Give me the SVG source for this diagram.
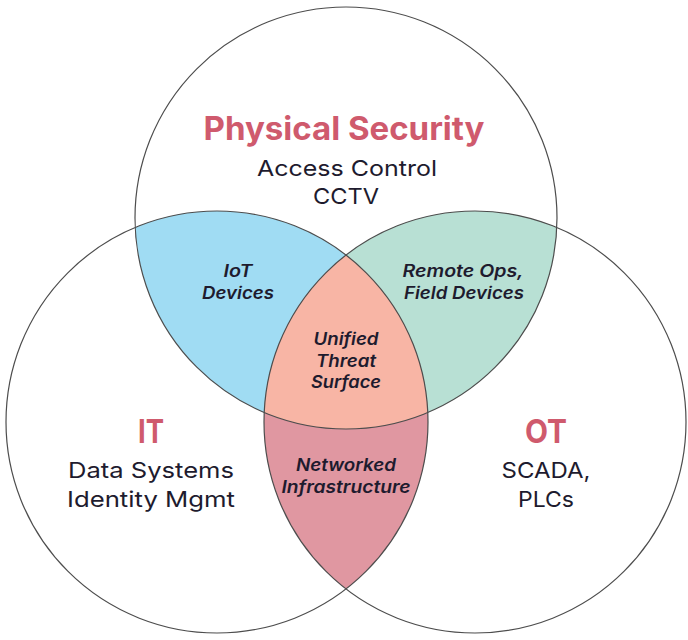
<svg xmlns="http://www.w3.org/2000/svg" width="688" height="640" viewBox="0 0 688 640">
  <style>
    .ring { fill: none; stroke: #4d4d4d; stroke-width: 1.2; }
    .title { font-family: Inter, "Open Sans", "Liberation Sans", sans-serif; font-weight: 700; font-size: 32px; fill: #cf5a6d; text-anchor: middle; }
    .body { font-family: Inter, "Open Sans", "Liberation Sans", sans-serif; font-weight: 400; font-size: 22px; fill: #1e1b2e; text-anchor: middle; }
    .sub { font-family: Inter, "Open Sans", "Liberation Sans", sans-serif; font-weight: 600; font-style: italic; font-size: 17px; fill: #1e1b2e; text-anchor: middle; }
  </style>
  <defs>
    <clipPath id="clipTop"><circle cx="346" cy="218" r="211"/></clipPath>
    <clipPath id="clipIT"><circle cx="217" cy="422" r="211"/></clipPath>
    <clipPath id="clipOT"><circle cx="475" cy="422" r="211"/></clipPath>
  </defs>
  <rect width="688" height="640" fill="#ffffff"/>

  <g id="region-iot">
    <circle cx="346" cy="218" r="211" fill="#a0dcf3" clip-path="url(#clipIT)"/>
  </g>
  <g id="region-remote">
    <circle cx="346" cy="218" r="211" fill="#b8e0d4" clip-path="url(#clipOT)"/>
  </g>
  <g id="region-networked">
    <circle cx="475" cy="422" r="211" fill="#e097a1" clip-path="url(#clipIT)"/>
  </g>
  <g id="region-unified">
    <g clip-path="url(#clipIT)">
      <circle cx="346" cy="218" r="211" fill="#f8b5a5" clip-path="url(#clipOT)"/>
    </g>
  </g>

  <g id="physical-security">
    <circle class="ring" cx="346" cy="218" r="211"/>
    <text class="title" x="344" y="140" textLength="281" lengthAdjust="spacingAndGlyphs">Physical Security</text>
    <text class="body" x="347" y="176" textLength="180" lengthAdjust="spacingAndGlyphs">Access Control</text>
    <text class="body" x="346" y="204" textLength="66" lengthAdjust="spacingAndGlyphs">CCTV</text>
  </g>
  <g id="it">
    <circle class="ring" cx="217" cy="422" r="211"/>
    <text class="title" x="151" y="443" textLength="26" lengthAdjust="spacingAndGlyphs">IT</text>
    <text class="body" x="151" y="478" textLength="166" lengthAdjust="spacingAndGlyphs">Data Systems</text>
    <text class="body" x="151" y="507" textLength="168" lengthAdjust="spacingAndGlyphs">Identity Mgmt</text>
  </g>
  <g id="ot">
    <circle class="ring" cx="475" cy="422" r="211"/>
    <text class="title" x="546" y="443" textLength="42" lengthAdjust="spacingAndGlyphs">OT</text>
    <text class="body" x="546" y="478" textLength="89" lengthAdjust="spacingAndGlyphs">SCADA,</text>
    <text class="body" x="546" y="507" textLength="56" lengthAdjust="spacingAndGlyphs">PLCs</text>
  </g>

  <g id="iot-devices">
    <text class="sub" x="238" y="277" textLength="29" lengthAdjust="spacingAndGlyphs">IoT</text>
    <text class="sub" x="238" y="299" textLength="72" lengthAdjust="spacingAndGlyphs">Devices</text>
  </g>
  <g id="remote-ops">
    <text class="sub" x="463" y="277" textLength="121" lengthAdjust="spacingAndGlyphs">Remote Ops,</text>
    <text class="sub" x="464" y="299" textLength="120" lengthAdjust="spacingAndGlyphs">Field Devices</text>
  </g>
  <g id="unified-threat-surface">
    <text class="sub" x="346" y="345" textLength="65" lengthAdjust="spacingAndGlyphs">Unified</text>
    <text class="sub" x="346" y="367" textLength="60" lengthAdjust="spacingAndGlyphs">Threat</text>
    <text class="sub" x="346" y="388" textLength="70" lengthAdjust="spacingAndGlyphs">Surface</text>
  </g>
  <g id="networked-infrastructure">
    <text class="sub" x="346" y="471" textLength="100" lengthAdjust="spacingAndGlyphs">Networked</text>
    <text class="sub" x="346" y="493" textLength="129" lengthAdjust="spacingAndGlyphs">Infrastructure</text>
  </g>
  <g id="connectors"/>
</svg>
